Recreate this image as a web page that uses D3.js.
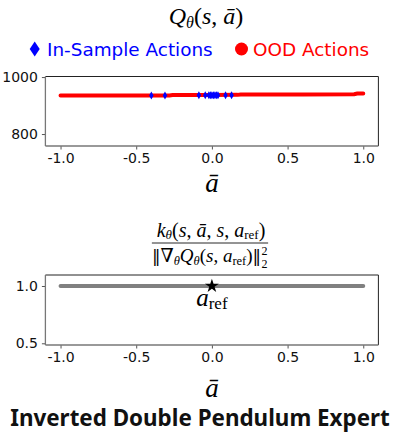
<!DOCTYPE html>
<html>
<head>
<meta charset="utf-8">
<script src="https://cdn.jsdelivr.net/npm/d3@7"></script>
<style>
  body { margin: 0; background: #fff; }
  svg { display: block; }
</style>
</head>
<body>
<script>
// values
const oodActions = [-1.0, -0.6, -0.28, -0.26, 0.0, 0.17, 0.19, 0.6, 0.94, 0.96, 1.0]
const oodQ = [935, 935, 935.5, 937, 937, 937.5, 939, 939, 939.5, 942, 942]
const inSampleActions = [-0.40, -0.31, -0.086, -0.044, -0.02, -0.01, 0.0, 0.01, 0.02, 0.03, 0.04, 0.09, 0.13]
const inSampleQ = [935.5, 935.5, 936, 936, 936, 936, 936, 936, 936, 936, 936, 936.5, 936.5]
const kernelActions = [-1.0, 1.0]
const kernelValues = [1.0, 1.0]
const refAction = [0.0]
const refValue = [1.0]
const xTicks = [-1.0, -0.5, 0.0, 0.5, 1.0]
const qTicks = [800, 1000]
const kTicks = [0.5, 1.0]

const width = 398, height = 435
const mathFont = "'Liberation Serif', 'DejaVu Serif', serif"
const tickFont = "'DejaVu Sans', sans-serif"

const svg = d3.select("body").append("svg")
    .attr("width", width)
    .attr("height", height)

const x = d3.scaleLinear().domain([-1.1, 1.1]).range([45.4, 378.4])
const yQ = d3.scaleLinear().domain([758, 1002]).range([146, 76.5])
const yK = d3.scaleLinear().domain([0.485, 1.096]).range([345, 275])

const fmt = d => d.toFixed(1)

// draws the frame + ticks of one panel
function drawAxes(yScale, yTicks, yFmt) {
    const top = yScale.range()[1], bottom = yScale.range()[0]
    const left = x.range()[0], right = x.range()[1]

    const gx = svg.append("g")
        .attr("transform", "translate(0," + bottom + ")")
        .call(d3.axisBottom(x).tickValues(xTicks).tickFormat(fmt).tickSize(3.5).tickPadding(4))
    const gy = svg.append("g")
        .attr("transform", "translate(" + left + ",0)")
        .call(d3.axisLeft(yScale).tickValues(yTicks).tickFormat(yFmt).tickSize(3.5).tickPadding(4))

    for (const g of [gx, gy]) {
        g.select(".domain").remove()
        g.selectAll("line").attr("stroke", "#555")
        g.selectAll("text")
            .attr("font-family", tickFont)
            .attr("font-size", 14)
            .attr("fill", "#111")
    }

    // spines: left/bottom look grey, top/right black
    svg.append("line").attr("x1", left).attr("x2", right).attr("y1", top).attr("y2", top)
        .attr("stroke", "#222")
    svg.append("line").attr("x1", right).attr("x2", right).attr("y1", top).attr("y2", bottom)
        .attr("stroke", "#222")
    svg.append("line").attr("x1", left).attr("x2", left).attr("y1", top).attr("y2", bottom)
        .attr("stroke", "#777").attr("stroke-width", 1.3)
    svg.append("line").attr("x1", left).attr("x2", right).attr("y1", bottom).attr("y2", bottom)
        .attr("stroke", "#777").attr("stroke-width", 1.3)
}

function thinDiamond(w, h) {
    return "M0," + (-h / 2) + "L" + (w / 2) + ",0L0," + (h / 2) + "L" + (-w / 2) + ",0Z"
}

// ---------- top panel: Q values ----------
const title1 = svg.append("text")
    .attr("x", 206).attr("y", 24)
    .attr("text-anchor", "middle")
    .attr("font-family", mathFont)
    .attr("font-size", 24)
title1.append("tspan").attr("font-style", "italic").text("Q")
title1.append("tspan").attr("font-style", "italic").attr("font-size", 16).attr("dy", 4).text("θ")
title1.append("tspan").attr("dy", -4).text("(")
title1.append("tspan").attr("font-style", "italic").text("s")
title1.append("tspan").text(", ")
title1.append("tspan").attr("font-style", "italic").text("ā")
title1.append("tspan").text(")")

// legend
svg.append("path")
    .attr("d", thinDiamond(10, 15))
    .attr("transform", "translate(34.7,49)")
    .attr("fill", "#0000ff")
svg.append("text")
    .attr("x", 47).attr("y", 55.5)
    .attr("font-family", tickFont).attr("font-size", 18.4)
    .attr("fill", "#0000ff")
    .text("In-Sample Actions")
svg.append("circle")
    .attr("cx", 241.5).attr("cy", 49).attr("r", 6.5)
    .attr("fill", "#ff0000")
svg.append("text")
    .attr("x", 253).attr("y", 55.5)
    .attr("font-family", tickFont).attr("font-size", 18.4)
    .attr("fill", "#ff0000")
    .text("OOD Actions")

drawAxes(yQ, qTicks, d => d)

const oodData = oodActions.map((a, i) => ({ a: a, q: oodQ[i] }))
svg.append("path")
    .datum(oodData)
    .attr("fill", "none")
    .attr("stroke", "#ff0000")
    .attr("stroke-width", 4)
    .attr("stroke-linecap", "round")
    .attr("d", d3.line().x(d => x(d.a)).y(d => yQ(d.q)))

svg.selectAll(".insample")
    .data(inSampleActions.map((a, i) => ({ a: a, q: inSampleQ[i] })))
    .enter().append("path")
    .attr("class", "insample")
    .attr("d", thinDiamond(4.5, 8))
    .attr("transform", d => "translate(" + x(d.a) + "," + yQ(d.q) + ")")
    .attr("fill", "#0000ff")

svg.append("text")
    .attr("x", x(0)).attr("y", 192)
    .attr("text-anchor", "middle")
    .attr("font-family", mathFont).attr("font-style", "italic")
    .attr("font-size", 27)
    .text("ā")

// ---------- bottom panel: normalised kernel ----------
const num = svg.append("text")
    .attr("x", 211).attr("y", 236.5)
    .attr("text-anchor", "middle")
    .attr("font-family", mathFont).attr("font-size", 20)
num.append("tspan").attr("font-style", "italic").text("k")
num.append("tspan").attr("font-style", "italic").attr("font-size", 13).attr("dy", 2.5).text("θ")
num.append("tspan").attr("dy", -2.5).text("(")
num.append("tspan").attr("font-style", "italic").text("s")
num.append("tspan").text(", ")
num.append("tspan").attr("font-style", "italic").text("ā")
num.append("tspan").text(", ")
num.append("tspan").attr("font-style", "italic").text("s")
num.append("tspan").text(", ")
num.append("tspan").attr("font-style", "italic").text("a")
num.append("tspan").attr("font-size", 13).attr("dy", 2.5).text("ref")
num.append("tspan").attr("dy", -2.5).text(")")

const normFont = "'DejaVu Serif', serif"
const den = svg.append("text")
    .attr("y", 261.5)
    .attr("font-family", mathFont).attr("font-size", 19)
den.append("tspan").attr("font-family", normFont).attr("font-size", 17).text("‖")
den.append("tspan").text("∇")
den.append("tspan").attr("font-style", "italic").attr("font-size", 12.5).attr("dy", 3).text("θ")
den.append("tspan").attr("font-style", "italic").attr("dy", -3).text("Q")
den.append("tspan").attr("font-style", "italic").attr("font-size", 12.5).attr("dy", 3).text("θ")
den.append("tspan").attr("dy", -3).text("(")
den.append("tspan").attr("font-style", "italic").text("s")
den.append("tspan").text(", ")
den.append("tspan").attr("font-style", "italic").text("a")
den.append("tspan").attr("font-size", 12.5).attr("dy", 3).text("ref")
den.append("tspan").attr("dy", -3).text(")")
den.append("tspan").attr("font-family", normFont).attr("font-size", 17).text("‖")

// centre the denominator (with its stacked 2s) under the numerator
const denW = den.node().getComputedTextLength()
const totalW = denW + 7
const denX = 210 - totalW / 2
den.attr("x", denX)
svg.append("text")
    .attr("x", denX + denW + 0.5).attr("y", 254.5)
    .attr("font-family", mathFont).attr("font-size", 12)
    .text("2")
svg.append("text")
    .attr("x", denX + denW + 0.5).attr("y", 268)
    .attr("font-family", mathFont).attr("font-size", 12)
    .text("2")

svg.append("line")
    .attr("x1", denX).attr("x2", denX + totalW).attr("y1", 243).attr("y2", 243)
    .attr("stroke", "#111").attr("stroke-width", 0.9)

drawAxes(yK, kTicks, fmt)

svg.append("path")
    .datum(kernelActions.map((a, i) => ({ a: a, v: kernelValues[i] })))
    .attr("fill", "none")
    .attr("stroke", "#808080")
    .attr("stroke-width", 4)
    .attr("stroke-linecap", "round")
    .attr("d", d3.line().x(d => x(d.a)).y(d => yK(d.v)))

svg.append("path")
    .attr("d", d3.symbol(d3.symbolStar, 60)())
    .attr("transform", "translate(" + x(refAction[0]) + "," + yK(refValue[0]) + ")")
    .attr("fill", "#000")

const refLabel = svg.append("text")
    .attr("x", x(refAction[0])).attr("y", yK(refValue[0]) + 20)
    .attr("text-anchor", "middle")
    .attr("font-family", mathFont).attr("font-size", 25)
refLabel.append("tspan").attr("font-style", "italic").text("a")
refLabel.append("tspan").attr("font-size", 17).attr("dy", 3).text("ref")

svg.append("text")
    .attr("x", x(0)).attr("y", 397)
    .attr("text-anchor", "middle")
    .attr("font-family", mathFont).attr("font-style", "italic")
    .attr("font-size", 27)
    .text("ā")

svg.append("text")
    .attr("x", 200).attr("y", 426)
    .attr("text-anchor", "middle")
    .attr("font-family", "'Noto Sans', 'Open Sans', sans-serif")
    .attr("font-weight", 700)
    .attr("font-size", 22.4)
    .attr("fill", "#111")
    .text("Inverted Double Pendulum Expert")
</script>
</body>
</html>
